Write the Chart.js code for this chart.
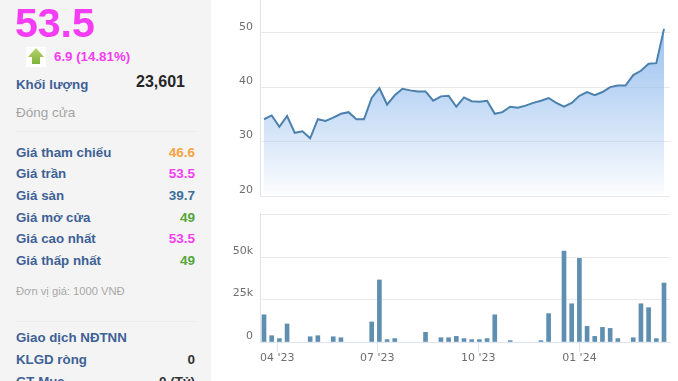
<!DOCTYPE html>
<html>
<head>
<meta charset="utf-8">
<title>53.5</title>
<script src="https://cdn.jsdelivr.net/npm/chart.js@4.4.0/dist/chart.umd.js"></script>
<style>
  html, body { margin: 0; padding: 0; background: #fff; }
  body { width: 678px; height: 381px; overflow: hidden; position: relative; font-family: 'Liberation Sans', Arial, sans-serif; }
  #side { position: absolute; left: 0; top: 0; width: 211px; height: 381px; background: #f4f4f4; overflow: hidden; }
  #side div { position: absolute; white-space: nowrap; line-height: 20px; }
  .lbl { left: 16px; font-size: 13.3px; font-weight: bold; color: #3e6196; }
  .val { right: 16px; font-size: 13.5px; font-weight: bold; }
  .sep { left: 15px; width: 181px; height: 1px; background: #ececec; }
  canvas { position: absolute; left: 220px; }
</style>
</head>
<body>
<div id="side">
  <div style="left:15px;top:3px;font-size:41px;line-height:40px;font-weight:bold;color:#f53cf5">53.5</div>
  <div style="left:26px;top:47px;width:20px;height:20px;background:#fff">
    <svg width="20" height="20" viewBox="0 0 20 20" style="display:block">
      <defs><linearGradient id="up" x1="0" y1="0" x2="0" y2="1"><stop offset="0" stop-color="#b5d56a"/><stop offset="1" stop-color="#7fb23c"/></linearGradient></defs>
      <path d="M10 1 L18 10 L14 10 L14 17 L6 17 L6 10 L2 10 Z" fill="url(#up)"/>
    </svg>
  </div>
  <div style="left:54px;top:47px;font-size:13.3px;font-weight:bold;color:#f53cf5">6.9 (14.81%)</div>
  <div class="lbl" style="top:75px">Khối lượng</div>
  <div style="right:26px;top:72px;font-size:16px;font-weight:bold;color:#262626">23,601</div>
  <div style="left:16px;top:103px;font-size:13.5px;color:#a3a3a3">Đóng cửa</div>
  <div class="sep" style="top:131px"></div>
  <div class="lbl" style="top:142.5px">Giá tham chiếu</div><div class="val" style="top:142.5px;color:#f7a23e">46.6</div>
  <div class="lbl" style="top:164px">Giá trần</div><div class="val" style="top:164px;color:#f53cf5">53.5</div>
  <div class="lbl" style="top:186px">Giá sàn</div><div class="val" style="top:186px;color:#3e6f9c">39.7</div>
  <div class="lbl" style="top:207.5px">Giá mở cửa</div><div class="val" style="top:207.5px;color:#55a63c">49</div>
  <div class="lbl" style="top:229px">Giá cao nhất</div><div class="val" style="top:229px;color:#f53cf5">53.5</div>
  <div class="lbl" style="top:250.5px">Giá thấp nhất</div><div class="val" style="top:250.5px;color:#55a63c">49</div>
  <div style="left:16px;top:281px;font-size:11.2px;color:#a8a8a8">Đơn vị giá: 1000 VNĐ</div>
  <div class="sep" style="top:321px"></div>
  <div class="lbl" style="top:328px">Giao dịch NĐTNN</div>
  <div class="lbl" style="top:350px">KLGD ròng</div><div class="val" style="top:350px;color:#333">0</div>
  <div class="lbl" style="top:371.5px">GT Mua</div><div class="val" style="top:371.5px;color:#333">0 (Tỷ)</div>
</div>
<canvas id="priceChart" width="458" height="197" style="top:0;width:458px;height:197px"></canvas>
<canvas id="volumeChart" width="458" height="176" style="top:205px;width:458px;height:176px"></canvas>
<script>
const weeks = [
  '2023-03-20', '2023-03-27', '2023-04-03', '2023-04-10', '2023-04-17', '2023-04-24',
  '2023-05-01', '2023-05-08', '2023-05-15', '2023-05-22', '2023-05-29',
  '2023-06-05', '2023-06-12', '2023-06-19', '2023-06-26',
  '2023-07-03', '2023-07-10', '2023-07-17', '2023-07-24', '2023-07-31',
  '2023-08-07', '2023-08-14', '2023-08-21', '2023-08-28',
  '2023-09-04', '2023-09-11', '2023-09-18', '2023-09-25',
  '2023-10-02', '2023-10-09', '2023-10-16', '2023-10-23', '2023-10-30',
  '2023-11-06', '2023-11-13', '2023-11-20', '2023-11-27',
  '2023-12-04', '2023-12-11', '2023-12-18', '2023-12-25',
  '2024-01-01', '2024-01-08', '2024-01-15', '2024-01-22', '2024-01-29',
  '2024-02-05', '2024-02-12', '2024-02-19', '2024-02-26',
  '2024-03-04', '2024-03-11', '2024-03-18'
];
const prices = [
  34.1, 34.8, 32.7, 34.7, 31.6, 31.9, 30.6, 34.1, 33.8, 34.4, 35.1, 35.4, 34.1, 34.1,
  38.0, 39.8, 36.8, 38.5, 39.7, 39.4, 39.2, 39.2, 37.5, 38.3, 38.4, 36.4,
  38.1, 37.4, 37.3, 37.5, 35.1, 35.4, 36.4, 36.2, 36.6, 37.1, 37.5, 38.0, 37.1, 36.4,
  37.1, 38.4, 39.1, 38.5, 39.1, 40.0, 40.3, 40.3, 42.2, 43.0, 44.3, 44.4, 50.7
];
const volumes = [
  16000, 3700, 2000, 10600, null, null, 3100, 3700, null, 3100, 2500, null, null, null,
  11800, 36500, 1400, 2000, null, null, null, 5700, null, 2500, 2500, 3300,
  2000, 1400, 1400, 2000, 16000, null, 800, null, null, null, 800, 16700, null, 53500,
  22500, 49200, 9200, 3300, 8600, 8000, 2000, null, 2500, 22500, 20200, 2000, 34700
];
const tickDates = ['2023-04-01', '2023-07-01', '2023-10-01', '2024-01-01'];
const tickLabels = ["04 '23", "07 '23", "10 '23", "01 '24"];
const priceTicks = [20, 30, 40, 50];

const DAY = 86400000;
const weekTimes = weeks.map((d) => Date.parse(d));
const tickTimes = tickDates.map((d) => Date.parse(d));
const xMin = weekTimes[0] - 3.64 * DAY;
const xMax = weekTimes[weekTimes.length - 1] + 5.46 * DAY;

const axisBlue = '#dfe4f4';
const gridGrey = '#e9e9ec';

Chart.defaults.font.family = "'DejaVu Sans', sans-serif";
Chart.defaults.font.size = 11;
Chart.defaults.color = '#6e6e6e';
Chart.defaults.animation = false;
Chart.defaults.plugins.legend.display = false;
Chart.defaults.plugins.tooltip.enabled = false;

const fitY = (s) => {
  s.width = 40;
  s.paddingTop = 0;
  s.paddingBottom = 0;
};

const priceFill = (ctx) => {
  const area = ctx.chart.chartArea;
  if (!area) return 'rgba(0,0,0,0)';
  const g = ctx.chart.ctx.createLinearGradient(0, 25, 0, area.bottom);
  g.addColorStop(0, 'rgba(150,190,238,0.95)');
  g.addColorStop(0.4, 'rgba(150,190,238,0.62)');
  g.addColorStop(1, 'rgba(150,190,238,0.03)');
  return g;
};

new Chart(document.getElementById('priceChart'), {
  type: 'line',
  data: {
    datasets: [{
      data: prices.map((y, i) => ({ x: weekTimes[i], y })),
      borderColor: '#4c80ad',
      borderWidth: 2,
      pointRadius: 0,
      tension: 0,
      fill: 'start',
      backgroundColor: priceFill
    }]
  },
  options: {
    responsive: false,
    layout: { padding: { top: 0, right: 8, bottom: 1, left: 0 } },
    scales: {
      x: { type: 'linear', display: false, min: xMin, max: xMax },
      y: {
        min: 20,
        max: 56,
        afterFit: fitY,
        afterBuildTicks: (s) => { s.ticks = priceTicks.map((value) => ({ value })); },
        grid: { color: gridGrey, drawTicks: false },
        border: { color: axisBlue },
        ticks: { padding: 7, labelOffset: -6 }
      }
    }
  }
});

new Chart(document.getElementById('volumeChart'), {
  type: 'bar',
  data: {
    datasets: [{
      data: volumes.map((y, i) => ({ x: weekTimes[i], y })),
      backgroundColor: '#5f8fb0',
      barThickness: 4
    }]
  },
  options: {
    responsive: false,
    layout: { padding: { top: 8, right: 8, bottom: 0, left: 0 } },
    scales: {
      x: {
        type: 'linear',
        offset: false,
        min: xMin,
        max: xMax,
        afterBuildTicks: (s) => { s.ticks = tickTimes.map((value) => ({ value })); },
        afterFit: (s) => {
          s.height = 39;
          s.paddingLeft = 0;
          s.paddingRight = 0;
        },
        grid: { offset: false, drawOnChartArea: false, tickLength: 10, tickColor: axisBlue },
        border: { color: axisBlue },
        ticks: {
          autoSkip: false,
          maxRotation: 0,
          padding: 0,
          callback: (v) => tickLabels[tickTimes.indexOf(v)]
        }
      },
      y: {
        min: 0,
        max: 75900,
        afterFit: fitY,
        afterBuildTicks: (s) => { s.ticks = [0, 25000, 50000, 75000].map((value) => ({ value })); },
        grid: {
          drawTicks: false,
          color: gridGrey
        },
        border: { color: axisBlue },
        ticks: {
          padding: 7,
          labelOffset: -6,
          callback: (v) => (v === 75000 ? '' : v === 0 ? '0' : v / 1000 + 'k')
        }
      }
    }
  }
});
</script>
</body>
</html>
